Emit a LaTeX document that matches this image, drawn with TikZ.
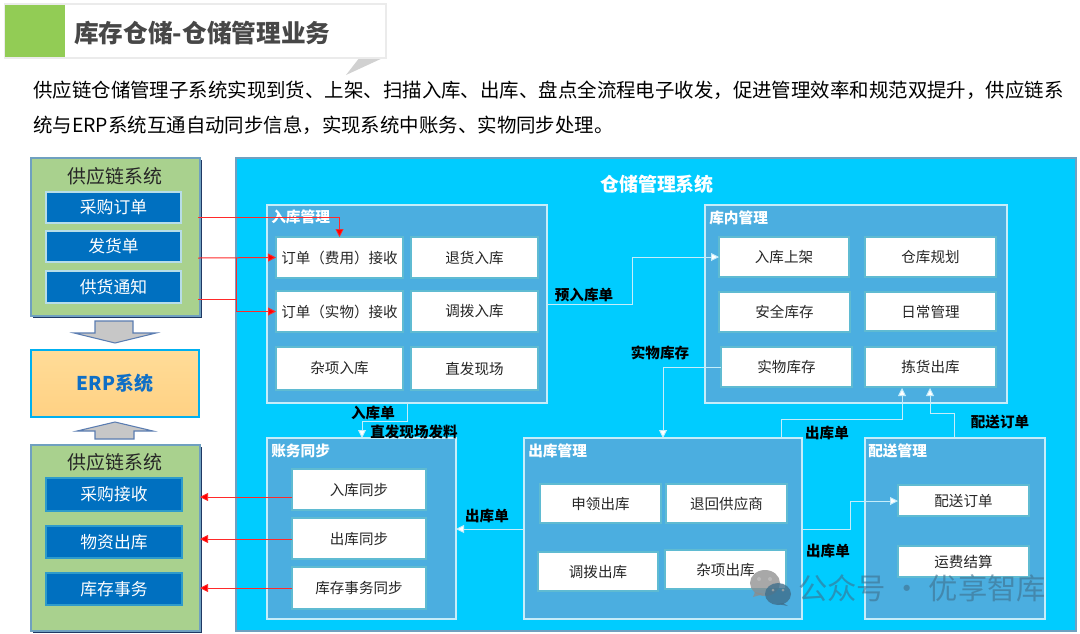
\documentclass[tikz,border=0pt]{standalone}
\usepackage{fontspec}
\setmainfont{Noto Sans CJK SC}
\usetikzlibrary{arrows.meta,calc}
\definecolor{cyanbg}{HTML}{00CCFF}
\definecolor{panelc}{HTML}{4BAEE0}
\definecolor{panelb}{HTML}{C5EDFA}
\definecolor{boxb}{HTML}{5FBBD2}
\definecolor{greenbg}{HTML}{A9D18E}
\definecolor{greenb}{HTML}{6FA0C0}
\definecolor{navy}{HTML}{1F3864}
\definecolor{bluebox}{HTML}{0070C0}
\definecolor{titleg}{HTML}{92CC55}
\definecolor{redl}{HTML}{FF2A2A}
\definecolor{arrowb}{HTML}{5B7DB1}
\definecolor{txt}{HTML}{262626}
\definecolor{wmark}{HTML}{3F6F8C}
\newcommand\bx[7]{%
  \pgfmathsetmacro\bxw{(#5-#3)*0.75}\pgfmathsetmacro\bxh{(#6-#4)*0.75}%
  \pgfmathsetmacro\bxx{(#3+#5)/2}\pgfmathsetmacro\bxy{(#4+#6)/2}%
  \node[#1,minimum width=\bxw pt,minimum height=\bxh pt] (#2) at (\bxx,\bxy) {#7};}
\tikzset{
  allbox/.style={inner sep=0pt,outer sep=0pt},
  greenpanel/.style={allbox,fill=greenbg,draw=greenb,line width=0.8pt},
  greenshade/.style={allbox,fill=navy},
  suphead/.style={inner sep=0pt,font=\fontsize{14.2pt}{16pt}\selectfont,text=txt},
  bluetop/.style={allbox,fill=bluebox,draw=bluelight,line width=1.2pt,text=white,font=\fontsize{12.6pt}{15pt}\selectfont},
  bluelow/.style={allbox,fill=bluebox,draw=bluelower,line width=1.2pt,text=white,font=\fontsize{12.6pt}{15pt}\selectfont},
  erpbox/.style={allbox,top color=ergt,bottom color=ergb,draw=erpb,line width=2pt,text=erpt,font=\bfseries\fontsize{14.2pt}{16pt}\selectfont},
  mainbox/.style={allbox,fill=cyanbg,draw=greenb,line width=0.8pt},
  maintitle/.style={inner sep=0pt,text=white,font=\bfseries\fontsize{14.2pt}{16pt}\selectfont},
  panel/.style={allbox,fill=panelc,draw=panelb,line width=1.3pt},
  paneltitle/.style={inner sep=0pt,anchor=west,text=white,font=\bfseries\fontsize{11pt}{13pt}\selectfont},
  wbox/.style={allbox,fill=white,draw=boxb,line width=0.8pt,text=txt,font=\fontsize{10.9pt}{13pt}\selectfont},
  flowlabel/.style={inner sep=0pt,text=black,font=\bfseries\fontsize{10.9pt}{13pt}\selectfont},
  redline/.style={draw=redl,line width=0.55pt,-{Triangle[length=6pt,width=6pt,fill=red]}},
  redthick/.style={draw=redl,line width=0.75pt,-{Triangle[length=6pt,width=6pt,fill=red]}},
  redplain/.style={draw=redl,line width=0.7pt},
  whiteline/.style={draw=panelb,line width=0.7pt,-{Triangle[length=6pt,width=6pt,fill=white]}},
  bigarrow/.style={fill=black!22,draw=arrowb,line width=0.8pt},
  bodytext/.style={inner sep=0pt,anchor=west,text=black,font=\fontsize{14.58pt}{17pt}\selectfont},
}
\definecolor{bluelight}{HTML}{B7DDE8}
\definecolor{bluelower}{HTML}{2E9BCB}
\definecolor{ergt}{HTML}{FFDC98}
\definecolor{ergb}{HTML}{FFD183}
\definecolor{erpb}{HTML}{00B0F0}
\definecolor{erpt}{HTML}{0F6FC6}
\begin{document}
\begin{tikzpicture}[x=0.75pt,y=-0.75pt]
\useasboundingbox (0,0) rectangle (1080,633);
% title banner
\fill[black!18] (385,57) -- (360,57) -- (346,75) -- cycle;
\fill[black!8] (4,3) rectangle (387,59);
\bx{allbox,fill=white}{banner}{5}{5}{385}{57}{}
\bx{allbox,fill=titleg}{bannerg}{5}{5}{65}{57}{}
\node[inner sep=0pt,anchor=west,text=black!72,font=\bfseries\fontsize{18.5pt}{20pt}\selectfont] (ttl) at (74,33) {库存仓储-仓储管理业务};
\node[bodytext] (l1) at (33,90) {供应链仓储管理子系统实现到货、上架、扫描入库、出库、盘点全流程电子收发，促进管理效率和规范双提升，供应链系};
\node[bodytext] (l2) at (33,125) {统与ERP系统互通自动同步信息，实现系统中账务、实物同步处理。};
% upper supply chain
\bx{greenshade}{gs1}{33}{160}{202}{318}{}
\bx{greenpanel}{g1}{31}{158}{200}{316}{}
\node[suphead] (g1t) at (115,176) {供应链系统};
\bx{bluetop}{po}{46}{192}{181}{223}{采购订单}
\bx{bluetop}{ship}{46}{231}{181}{262}{发货单}
\bx{bluetop}{note}{46}{271}{181}{303}{供货通知}
% big arrows
\draw[bigarrow] (95,321) -- (133,321) -- (133,333) -- (156,333) -- (115,343) -- (74,333) -- (95,333) -- cycle;
\bx{erpbox}{erp}{31}{350}{199}{417}{ERP系统}
\draw[bigarrow] (95,439) -- (134,439) -- (134,431) -- (153,431) -- (115,422) -- (77,431) -- (95,431) -- cycle;
% lower supply chain
\bx{greenshade}{gs2}{33}{447}{202}{633}{}
\bx{greenpanel}{g2}{31}{445}{200}{631}{}
\node[suphead] (g2t) at (115,462) {供应链系统};
\bx{bluelow}{recv}{46}{478}{182}{511}{采购接收}
\bx{bluelow}{issue}{46}{526}{182}{558}{物资出库}
\bx{bluelow}{trans}{46}{573}{182}{605}{库存事务}
% main
\bx{mainbox}{main}{236}{158}{1076}{631}{}
\node[maintitle] (maint) at (657,184) {仓储管理系统};
% panels
\bx{panel}{pin}{267}{205}{547}{403}{}
\node[paneltitle] (pint) at (271,217) {入库管理};
\bx{panel}{pst}{705}{205}{1007}{403}{}
\node[paneltitle] (pstt) at (709,218) {库内管理};
\bx{panel}{pac}{267}{438}{456}{619}{}
\node[paneltitle] (pact) at (271,451) {账务同步};
\bx{panel}{pout}{524}{438}{802}{619}{}
\node[paneltitle] (poutt) at (528,451) {出库管理};
\bx{panel}{pdl}{865}{438}{1045}{619}{}
\node[paneltitle] (pdlt) at (868,451) {配送管理};
% inbound
\bx{wbox}{rf}{276}{237}{403}{278}{订单（费用）接收}
\bx{wbox}{rr}{411}{237}{538}{278}{退货入库}
\bx{wbox}{rs}{276}{291}{403}{332}{订单（实物）接收}
\bx{wbox}{ra}{411}{291}{538}{332}{调拨入库}
\bx{wbox}{rm}{276}{347}{403}{390}{杂项入库}
\bx{wbox}{rd}{411}{347}{538}{390}{直发现场}
% stock
\bx{wbox}{su}{719}{237}{849}{277}{入库上架}
\bx{wbox}{sp}{865}{237}{996}{277}{仓库规划}
\bx{wbox}{ss}{719}{292}{850}{332}{安全库存}
\bx{wbox}{sd}{865}{292}{996}{331}{日常管理}
\bx{wbox}{sr}{721}{347}{852}{387}{实物库存}
\bx{wbox}{sk}{865}{347}{996}{387}{拣货出库}
% sync
\bx{wbox}{yi}{292}{469}{426}{510}{入库同步}
\bx{wbox}{yo}{292}{518}{426}{559}{出库同步}
\bx{wbox}{yt}{292}{567}{426}{609}{库存事务同步}
% outbound
\bx{wbox}{oa}{540}{484}{661}{523}{申领出库}
\bx{wbox}{ob}{666}{484}{787}{523}{退回供应商}
\bx{wbox}{oc}{538}{552}{658}{591}{调拨出库}
\bx{wbox}{od}{665}{550}{786}{589}{杂项出库}
% delivery
\bx{wbox}{da}{898}{485}{1029}{516}{配送订单}
\bx{wbox}{db}{898}{546}{1029}{577}{运费结算}
% red connectors
\coordinate (s1) at (198,217);
\coordinate (s2) at (198,258);
\coordinate (s3) at (198,299);
\coordinate (j1) at (236,258);
\coordinate (j3) at (236,299);
\coordinate (t1) at (200,497);
\coordinate (t2) at (200,539);
\coordinate (t3) at (200,588);
\draw[redline] (s1) -| (rf.north);
\draw[redthick] (s2) -- (rf.west);
\draw[redplain] (s3) -- (j3);
\draw[redthick] (j1) |- (rs.west);
\draw[redline] (yi.west |- t1) -- (t1);
\draw[redline] (yo.west |- t2) -- (t2);
\draw[redline] (yt.west |- t3) -- (t3);
% white connectors
\coordinate (w1a) at (407,403);
\coordinate (w1b) at (407,421);
\coordinate (w1c) at (362,421);
\coordinate (w1d) at (362,438);
\draw[whiteline] (w1a) -- (w1b) -- (w1c) -- (w1d);
\coordinate (w2a) at (547,304);
\coordinate (w2b) at (632,304);
\coordinate (w2c) at (632,257);
\draw[whiteline] (w2a) -- (w2b) -- (w2c) -- (su.west);
\coordinate (w3b) at (663,367);
\coordinate (w3c) at (663,438);
\draw[whiteline] (sr.west) -- (w3b) -- (w3c);
\coordinate (w4a) at (781,438);
\coordinate (w4b) at (781,419);
\coordinate (w4c) at (902,419);
\coordinate (w4d) at (902,388);
\draw[whiteline] (w4a) -- (w4b) -- (w4c) -- (w4d);
\coordinate (w5a) at (954,438);
\coordinate (w5b) at (954,413);
\coordinate (w5c) at (930,413);
\coordinate (w5d) at (930,388);
\draw[whiteline] (w5a) -- (w5b) -- (w5c) -- (w5d);
\coordinate (w6a) at (524,529);
\coordinate (w6b) at (456,529);
\draw[whiteline] (w6a) -- (w6b);
\coordinate (w7a) at (802,529);
\coordinate (w7b) at (850,529);
\coordinate (w7c) at (850,501);
\draw[whiteline] (w7a) -- (w7b) -- (w7c) -- (da.west |- w7c);
% flow labels
\node[flowlabel] (f1) at (373,413) {入库单};
\node[flowlabel] (f2) at (414,432) {直发现场发料};
\node[flowlabel] (f3) at (584,295) {预入库单};
\node[flowlabel] (f4) at (660,353) {实物库存};
\node[flowlabel] (f5) at (827,433) {出库单};
\node[flowlabel] (f6) at (1000,422) {配送订单};
\node[flowlabel] (f7) at (487,516) {出库单};
\node[flowlabel] (f8) at (828,551) {出库单};
% watermark
\begin{scope}[opacity=0.75]
\fill[black!45] (765,583) ellipse [x radius=15,y radius=13];
\fill[black!45] (755,592) -- (753,597) -- (764,594) -- cycle;
\fill[black!25] (759,579) circle [radius=2];
\fill[black!25] (770,579) circle [radius=2];
\end{scope}
\begin{scope}[opacity=0.8]
\fill[wmark] (778,594) ellipse [x radius=13,y radius=11];
\fill[wmark] (783,603) -- (788,606) -- (777,604) -- cycle;
\fill[black!35] (773,590) circle [radius=1.5];
\fill[black!35] (783,590) circle [radius=1.5];
\end{scope}
\node[inner sep=0pt,anchor=west,text=wmark,opacity=0.6,font=\fontsize{22pt}{24pt}\selectfont] (wm) at (798,588) {公众号 · 优享智库};
\end{tikzpicture}
\end{document}
